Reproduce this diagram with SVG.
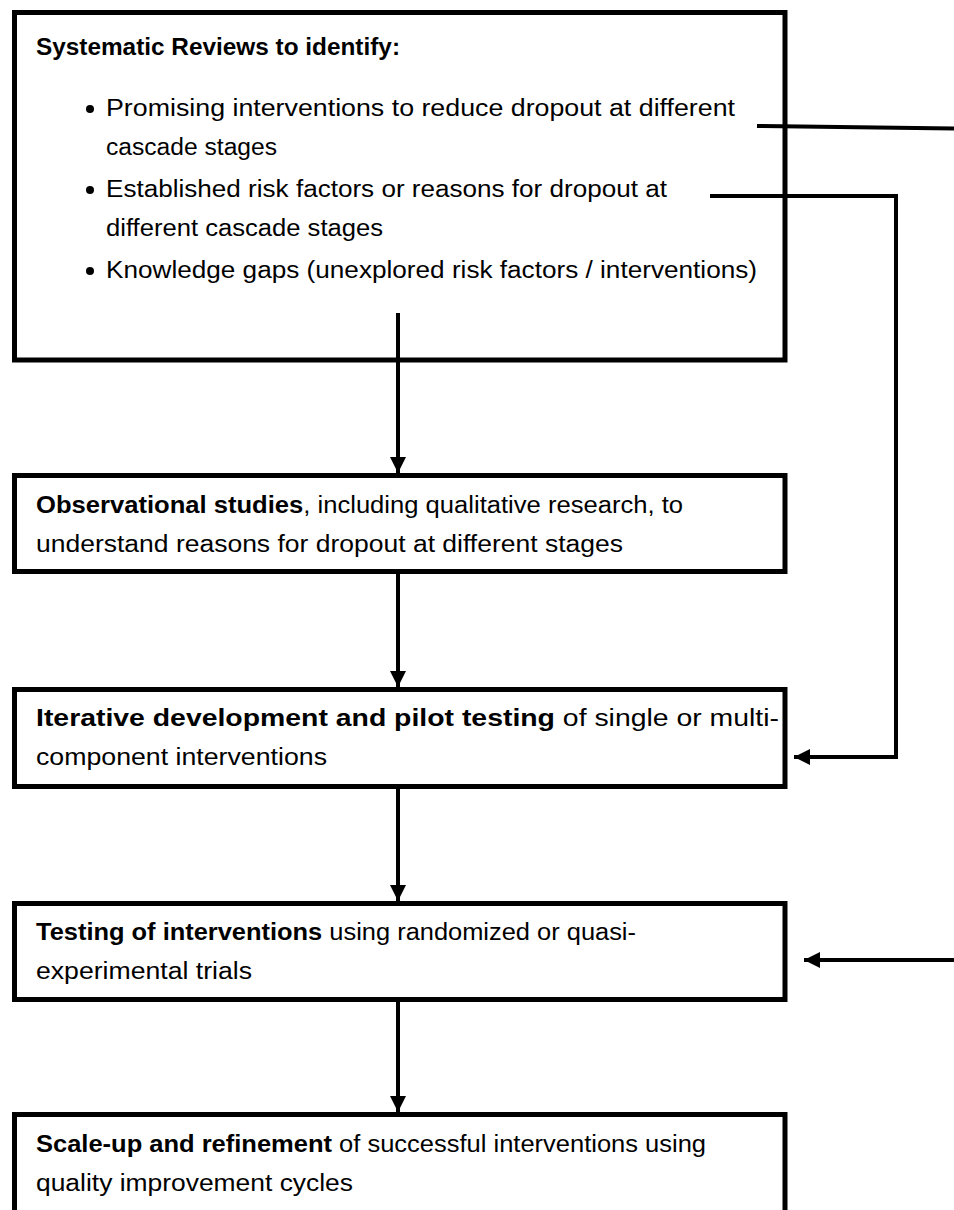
<svg xmlns="http://www.w3.org/2000/svg" width="954" height="1210" viewBox="0 0 954 1210">
<style>
.box{fill:#fff;stroke:#000;stroke-width:5}
.t{font-family:"Liberation Sans",Arial,sans-serif;font-size:23px;fill:#000}
.b{font-weight:bold}
.c{fill:none;stroke:#000;stroke-width:4}
</style>
<defs>
<marker id="ah" markerUnits="userSpaceOnUse" markerWidth="18" markerHeight="16" refX="16" refY="8" orient="auto">
<path d="M0,0 L16,8 L0,16 Z" fill="#000"/>
</marker>
</defs>
<g id="node1">
<rect class="box" x="14.5" y="12.5" width="770.5" height="347.5"/>
<text class="t b" x="36" y="55" textLength="364" lengthAdjust="spacingAndGlyphs">Systematic Reviews to identify:</text>
<circle cx="90" cy="109" r="4"/>
<text class="t" x="106" y="116" textLength="629" lengthAdjust="spacingAndGlyphs">Promising interventions to reduce dropout at different</text>
<text class="t" x="106" y="155" textLength="171" lengthAdjust="spacingAndGlyphs">cascade stages</text>
<circle cx="90" cy="190" r="4"/>
<text class="t" x="106" y="197" textLength="561" lengthAdjust="spacingAndGlyphs">Established risk factors or reasons for dropout at</text>
<text class="t" x="106" y="236" textLength="277" lengthAdjust="spacingAndGlyphs">different cascade stages</text>
<circle cx="90" cy="271" r="4"/>
<text class="t" x="106" y="278" textLength="651" lengthAdjust="spacingAndGlyphs">Knowledge gaps (unexplored risk factors / interventions)</text>
</g>
<g id="node2">
<rect class="box" x="14.5" y="475.5" width="770.5" height="96"/>
<text class="t" x="36" y="513" textLength="647" lengthAdjust="spacingAndGlyphs"><tspan class="b">Observational studies</tspan>, including qualitative research, to</text>
<text class="t" x="36" y="552" textLength="587" lengthAdjust="spacingAndGlyphs">understand reasons for dropout at different stages</text>
</g>
<g id="node3">
<rect class="box" x="14.5" y="689.5" width="770.5" height="97"/>
<text class="t" x="36" y="726" textLength="743" lengthAdjust="spacingAndGlyphs"><tspan class="b">Iterative development and pilot testing</tspan> of single or multi-</text>
<text class="t" x="36" y="765" textLength="291" lengthAdjust="spacingAndGlyphs">component interventions</text>
</g>
<g id="node4">
<rect class="box" x="14.5" y="903.5" width="770.5" height="96"/>
<text class="t" x="36" y="940" textLength="600" lengthAdjust="spacingAndGlyphs"><tspan class="b">Testing of interventions</tspan> using randomized or quasi-</text>
<text class="t" x="36" y="979" textLength="216" lengthAdjust="spacingAndGlyphs">experimental trials</text>
</g>
<g id="node5">
<rect class="box" x="14.5" y="1114.5" width="770.5" height="110"/>
<text class="t" x="36" y="1152" textLength="670" lengthAdjust="spacingAndGlyphs"><tspan class="b">Scale-up and refinement</tspan> of successful interventions using</text>
<text class="t" x="36" y="1191" textLength="317" lengthAdjust="spacingAndGlyphs">quality improvement cycles</text>
</g>
<g id="connectors">
<line class="c" x1="398" y1="313" x2="398" y2="473" marker-end="url(#ah)"/>
<line class="c" x1="398" y1="572" x2="398" y2="687" marker-end="url(#ah)"/>
<line class="c" x1="398" y1="787" x2="398" y2="901" marker-end="url(#ah)"/>
<line class="c" x1="398" y1="999" x2="398" y2="1112" marker-end="url(#ah)"/>
<polyline class="c" points="710,196 896,196 896,757 794,757" marker-end="url(#ah)"/>
<line class="c" x1="757" y1="126" x2="954" y2="128.5"/>
<line class="c" x1="954" y1="960" x2="804" y2="960" marker-end="url(#ah)"/>
</g>
</svg>
